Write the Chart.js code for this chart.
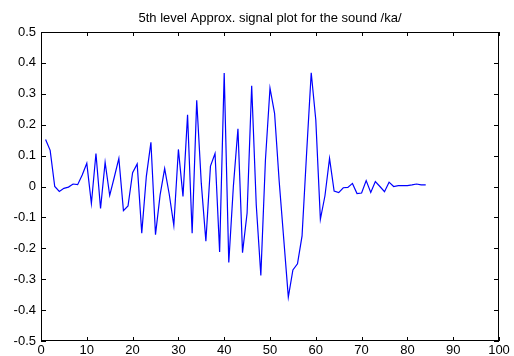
<!DOCTYPE html>
<html>
<head>
<meta charset="utf-8">
<title>5th level Approx. signal plot</title>
<script src="https://cdn.jsdelivr.net/npm/chart.js@4/dist/chart.umd.min.js"></script>
<style>
  html, body { margin: 0; padding: 0; background: #fff; }
  canvas { display: block; }
</style>
</head>
<body>
<canvas id="grafica-senal" width="514" height="356"></canvas>
<script>
// ============================================================
// DATA: approximation coefficients (n = 1..84)
// ============================================================
const tituloGrafica = '5th level Approx. signal plot for the sound /ka/';

const valoresSenal = [
  0.152, 0.117, 0.0, -0.016, -0.006, -0.002, 0.008, 0.006, 0.037, 0.075,
  -0.055, 0.107, -0.071, 0.078, -0.029, 0.03, 0.091, -0.078, -0.063, 0.045,
  0.073, -0.151, 0.033, 0.143, -0.156, -0.028, 0.058, -0.025, -0.126, 0.12,
  -0.032, 0.232, -0.151, 0.279, 0.01, -0.177, 0.066, 0.107, -0.212, 0.367,
  -0.246, 0.0, 0.187, -0.214, -0.086, 0.326, -0.06, -0.288, 0.085, 0.318,
  0.237, 0.018, -0.17, -0.358, -0.27, -0.25, -0.16, 0.11, 0.368, 0.215,
  -0.106, -0.03, 0.091, -0.015, -0.02, -0.004, -0.003, 0.01, -0.023, -0.021,
  0.019, -0.019, 0.016, 0.0, -0.017, 0.014, 0.0, 0.003, 0.003, 0.003,
  0.005, 0.008, 0.005, 0.005,
];

// sample index starts at 1, like MATLAB's plot(y)
const indicesMuestra = valoresSenal.map((_, i) => i + 1);

const ticksEjeX = [0, 10, 20, 30, 40, 50, 60, 70, 80, 90, 100];
const ticksEjeY = [-0.5, -0.4, -0.3, -0.2, -0.1, 0, 0.1, 0.2, 0.3, 0.4, 0.5];

// ============================================================
// MATLAB-style box: frame on all 4 sides, ticks pointing inward
// ============================================================
const marcoMatlab = {
  id: 'marcoMatlab',
  afterDraw(chart) {
    const { ctx, chartArea: a, scales: { x, y } } = chart;
    ctx.save();
    ctx.strokeStyle = '#000';
    ctx.lineWidth = 1;
    ctx.strokeRect(a.left + 0.5, a.top + 0.5, a.right - a.left - 1, a.bottom - a.top - 1);

    ctx.beginPath();
    ticksEjeX.forEach(v => {
      const px = Math.round(x.getPixelForValue(v)) + 0.5;
      ctx.moveTo(px, a.bottom); ctx.lineTo(px, a.bottom - 4);
      ctx.moveTo(px, a.top); ctx.lineTo(px, a.top + 4);
    });
    ticksEjeY.forEach(v => {
      const py = Math.round(y.getPixelForValue(v)) + 0.5;
      ctx.moveTo(a.left, py); ctx.lineTo(a.left + 5, py);
      ctx.moveTo(a.right, py); ctx.lineTo(a.right - 5, py);
    });
    ctx.stroke();
    ctx.restore();
  },
};

const fuente = { family: '"Liberation Sans", Arial, sans-serif', size: 13 };

new Chart(document.getElementById('grafica-senal'), {
  type: 'line',
  data: {
    datasets: [{
      data: indicesMuestra.map((n, i) => ({ x: n, y: valoresSenal[i] })),
      borderColor: '#0000ff',
      borderWidth: 1.2,
      pointRadius: 0,
      tension: 0,
      fill: false,
    }],
  },
  options: {
    responsive: false,
    animation: false,
    layout: { padding: { left: 0, right: 15, top: 0, bottom: 0 } },
    plugins: {
      legend: { display: false },
      tooltip: { enabled: false },
      title: {
        display: true,
        text: tituloGrafica,
        fullSize: false,
        color: '#000',
        font: { family: fuente.family, size: 13, weight: 'normal' },
        padding: { top: 11, bottom: 5.4 },
      },
    },
    scales: {
      x: {
        type: 'linear',
        min: 0,
        max: 100,
        afterFit: s => { s.height = 15; },
        afterBuildTicks: s => { s.ticks = ticksEjeX.map(v => ({ value: v })); },
        ticks: { color: '#000', font: fuente, padding: 2, maxRotation: 0 },
        grid: { display: false, drawTicks: false },
        border: { display: false },
      },
      y: {
        type: 'linear',
        min: -0.5,
        max: 0.5,
        afterFit: s => { s.width = 41; },
        afterBuildTicks: s => { s.ticks = ticksEjeY.map(v => ({ value: v })); },
        ticks: { color: '#000', font: fuente, padding: 5, callback: v => String(Math.round(v * 10) / 10) },
        grid: { display: false, drawTicks: false },
        border: { display: false },
      },
    },
  },
  plugins: [marcoMatlab],
});
</script>
</body>
</html>
